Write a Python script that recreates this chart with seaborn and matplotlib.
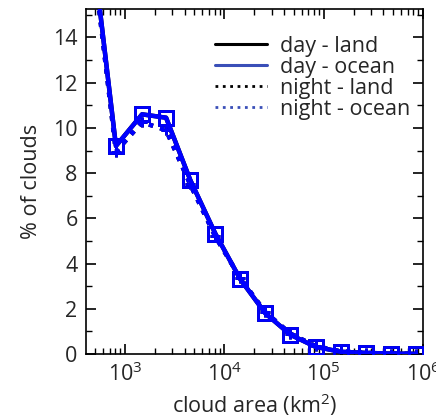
import numpy as np
import pandas as pd
import matplotlib
matplotlib.use("Agg")
import matplotlib.pyplot as plt
from matplotlib.lines import Line2D
from matplotlib.ticker import LogLocator, MultipleLocator, NullFormatter
import seaborn as sns

# cloud-area bins (km^2)
area = [454, 811, 1485, 2594, 4538, 8110, 14520, 25900, 46400, 83000,
        148000, 265000, 473000, 850000]
# percentage of clouds per bin
day_land = [18.6, 9.2, 10.6, 10.45, 7.7, 5.33, 3.3, 1.8, 0.85, 0.32, 0.1, 0.05, 0.02, 0.01]
day_ocean = [18.6, 9.2, 10.6, 10.45, 7.7, 5.33, 3.3, 1.8, 0.85, 0.32, 0.1, 0.05, 0.02, 0.01]
night_land = [18.3, 8.95, 10.25, 9.9, 7.5, 5.2, 3.35, 1.85, 0.9, 0.35, 0.12, 0.05, 0.02, 0.01]
night_ocean = [18.3, 8.95, 10.25, 9.9, 7.5, 5.2, 3.35, 1.85, 0.9, 0.35, 0.12, 0.05, 0.02, 0.01]

labels = ["day - land", "day - ocean", "night - land", "night - ocean"]

sns.set_theme(style="ticks")
plt.rcParams["font.family"] = ["Open Sans", "DejaVu Sans"]
plt.rcParams["mathtext.default"] = "regular"

fig = plt.figure(figsize=(4.36, 4.17), dpi=100)
ax = fig.add_axes([0.197, 0.151, 0.773, 0.827])

BLUE = "#0000ff"
series = [
    (day_land, "black", "-", "s", 3.2, 1),
    (night_land, "black", ":", "+", 3.2, 1),
    (night_ocean, BLUE, ":", "+", 3.2, 2),
    (day_ocean, BLUE, "-", "s", 3.2, 3),
]
for vals, col, ls, mk, lw, z in series:
    df = pd.DataFrame({"area": area, "pct": vals})
    if mk == "s":
        sns.lineplot(data=df, x="area", y="pct", ax=ax, color=col, linestyle=ls,
                     linewidth=lw, marker="s", markersize=9.5, markerfacecolor="none",
                     markeredgecolor=col, markeredgewidth=2.0, zorder=z)
    else:
        sns.lineplot(data=df, x="area", y="pct", ax=ax, color=col, linestyle=ls,
                     linewidth=lw, marker="+", markersize=7,
                     markeredgecolor=col, markeredgewidth=2.0, zorder=z)

ax.set_xscale("log")
ax.set_xlim(404, 1.0e6)
ax.set_ylim(0, 15.25)

ax.xaxis.set_major_locator(LogLocator(base=10, numticks=10))
ax.xaxis.set_minor_locator(LogLocator(base=10, subs=np.arange(2, 10), numticks=10))
ax.xaxis.set_minor_formatter(NullFormatter())
ax.yaxis.set_major_locator(MultipleLocator(2))
ax.yaxis.set_minor_locator(MultipleLocator(1))

ax.tick_params(axis="both", which="both", direction="in", top=True, right=True,
               color="black")
ax.tick_params(axis="both", which="major", length=7, width=1.2, labelsize=15.5, pad=6)
ax.tick_params(axis="both", which="minor", length=4, width=1.0)
for s in ax.spines.values():
    s.set_linewidth(1.2)
    s.set_color("black")

ax.set_xlabel("cloud area (km$^2$)", fontsize=15.5, labelpad=4)
ax.set_ylabel("% of clouds", fontsize=15.5, labelpad=8)

handles = [
    Line2D([], [], color="black", linestyle="-", linewidth=2.2),
    Line2D([], [], color="#3a4fb8", linestyle="-", linewidth=2.2),
    Line2D([], [], color="black", linestyle=":", linewidth=2.0),
    Line2D([], [], color="#3a4fb8", linestyle=":", linewidth=2.0),
]
ax.legend(handles, labels, loc="upper right", bbox_to_anchor=(1.0, 0.96),
          frameon=False, fontsize=15.5, handlelength=2.4, handletextpad=0.6,
          labelspacing=0.0, borderaxespad=0.2)

fig.savefig("out.png", dpi=100)
